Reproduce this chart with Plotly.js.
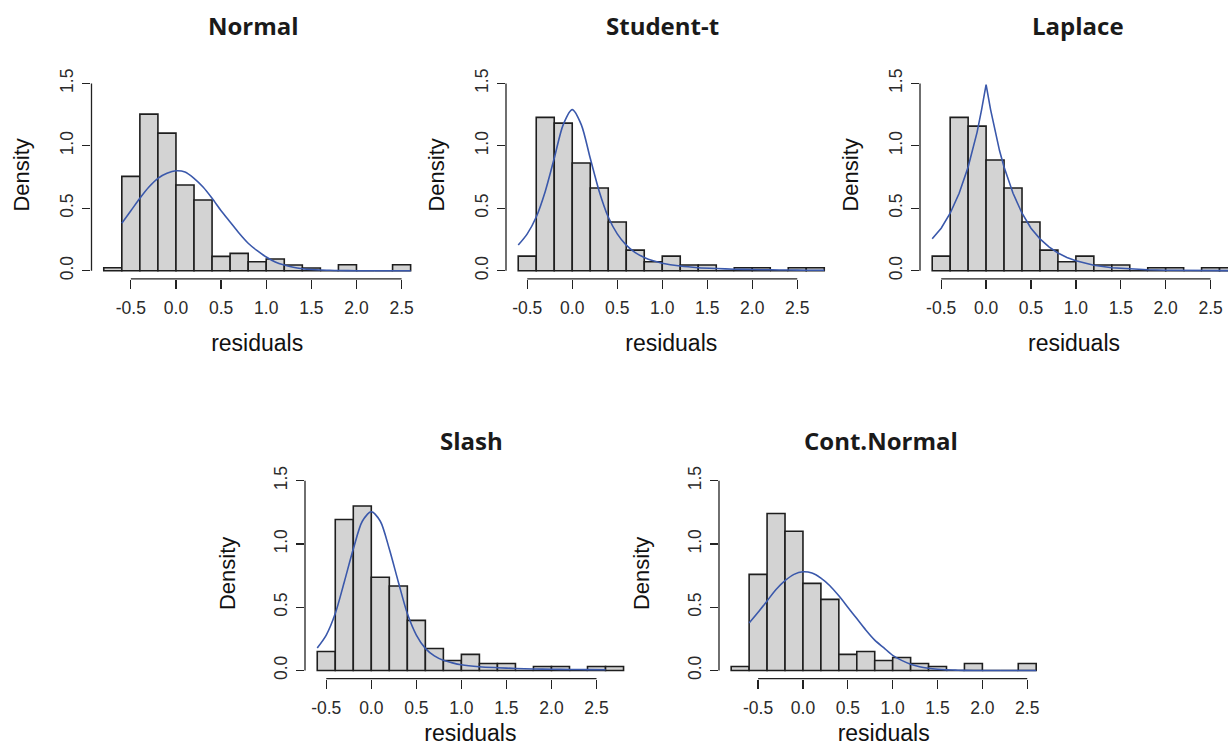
<!DOCTYPE html>
<html><head><meta charset="utf-8">
<script src="https://cdn.plot.ly/plotly-3.0.1.min.js"></script>
<style>html,body{margin:0;padding:0;background:#fff}#chart{width:1228px;height:746px}</style>
</head><body><div id="chart"></div>
<script>
// ---------------- data ----------------
const panelTitles = ['Normal', 'Student-t', 'Laplace', 'Slash', 'Cont.Normal'];
const xTickVals = [-0.5, 0, 0.5, 1, 1.5, 2, 2.5];
const xTickText = ['-0.5', '0.0', '0.5', '1.0', '1.5', '2.0', '2.5'];
const yTickVals = [0, 0.5, 1, 1.5];
const yTickText = ['0.0', '0.5', '1.0', '1.5'];
const binWidth = 0.2;

// left edges of histogram bins
const binsWide = [-0.8, -0.6, -0.4, -0.2, 0.0, 0.2, 0.4, 0.6, 0.8, 1.0, 1.2, 1.4, 1.6, 1.8, 2.0, 2.2, 2.4];
const binsShift = [-0.6, -0.4, -0.2, 0.0, 0.2, 0.4, 0.6, 0.8, 1.0, 1.2, 1.4, 1.6, 1.8, 2.0, 2.2, 2.4, 2.6];

// histogram densities
const normalDensity  = [0.024, 0.755, 1.254, 1.102, 0.686, 0.566, 0.115, 0.139, 0.072, 0.093, 0.045, 0.021, 0, 0.048, 0, 0, 0.048];
const studentDensity = [0.117, 1.228, 1.182, 0.862, 0.662, 0.390, 0.165, 0.072, 0.117, 0.045, 0.045, 0, 0.024, 0.024, 0, 0.024, 0.024];
const laplaceDensity = [0.117, 1.228, 1.158, 0.886, 0.662, 0.390, 0.165, 0.072, 0.117, 0.045, 0.045, 0, 0.024, 0.024, 0, 0.024, 0.024];
const slashDensity   = [0.150, 1.194, 1.300, 0.737, 0.668, 0.396, 0.174, 0.079, 0.127, 0.055, 0.055, 0, 0.032, 0.032, 0, 0.032, 0.032];
const contDensity    = [0.032, 0.760, 1.241, 1.101, 0.689, 0.562, 0.127, 0.150, 0.079, 0.103, 0.055, 0.032, 0, 0.055, 0, 0, 0.055];

// fitted density curves
const normalCurveX = [-0.6, -0.5, -0.4, -0.3, -0.2, -0.1, 0.0, 0.1, 0.2, 0.3, 0.4, 0.5, 0.6, 0.7, 0.8, 0.9, 1.0, 1.1, 1.2, 1.3, 1.4, 1.5, 1.6, 1.7, 1.8, 2.0, 2.2, 2.4, 2.6];
const normalCurveY = [0.38, 0.48, 0.58, 0.67, 0.74, 0.78, 0.80, 0.79, 0.74, 0.67, 0.58, 0.48, 0.39, 0.30, 0.22, 0.16, 0.11, 0.07, 0.045, 0.027, 0.016, 0.009, 0.005, 0.003, 0.001, 0, 0, 0, 0];

const studentCurveX = [-0.6, -0.5, -0.4, -0.3, -0.2, -0.1, 0.0, 0.1, 0.2, 0.3, 0.4, 0.5, 0.6, 0.7, 0.8, 0.9, 1.0, 1.2, 1.4, 1.6, 1.8, 2.0, 2.2, 2.4, 2.6, 2.8];
const studentCurveY = [0.205, 0.295, 0.43, 0.635, 0.90, 1.17, 1.29, 1.17, 0.90, 0.635, 0.43, 0.295, 0.205, 0.145, 0.106, 0.079, 0.060, 0.037, 0.024, 0.017, 0.012, 0.009, 0.007, 0.005, 0.004, 0.003];

const laplaceCurveX = [-0.6, -0.5, -0.4, -0.3, -0.2, -0.15, -0.1, -0.05, 0.0, 0.05, 0.1, 0.15, 0.2, 0.3, 0.4, 0.5, 0.6, 0.7, 0.8, 0.9, 1.0, 1.2, 1.4, 1.6, 1.8, 2.0, 2.2, 2.4, 2.6, 2.8];
const laplaceCurveY = [0.255, 0.34, 0.46, 0.62, 0.83, 0.96, 1.11, 1.29, 1.49, 1.29, 1.11, 0.96, 0.83, 0.62, 0.46, 0.34, 0.255, 0.19, 0.142, 0.106, 0.079, 0.044, 0.024, 0.013, 0.0075, 0.004, 0.002, 0.001, 0.0005, 0.0003];

const slashCurveX = [-0.6, -0.5, -0.4, -0.3, -0.2, -0.1, 0.0, 0.1, 0.2, 0.3, 0.4, 0.5, 0.6, 0.7, 0.8, 0.9, 1.0, 1.2, 1.4, 1.6, 1.8, 2.0, 2.2, 2.4, 2.6];
const slashCurveY = [0.178, 0.28, 0.45, 0.70, 0.96, 1.18, 1.255, 1.18, 0.96, 0.70, 0.45, 0.28, 0.175, 0.115, 0.08, 0.06, 0.045, 0.03, 0.022, 0.016, 0.012, 0.01, 0.008, 0.007, 0.006];

const contCurveX = [-0.6, -0.5, -0.4, -0.3, -0.2, -0.1, 0.0, 0.1, 0.2, 0.3, 0.4, 0.5, 0.6, 0.7, 0.8, 0.9, 1.0, 1.1, 1.2, 1.3, 1.4, 1.5, 1.6, 1.7, 1.8, 2.0, 2.2, 2.4, 2.6];
const contCurveY = [0.375, 0.46, 0.55, 0.64, 0.71, 0.76, 0.78, 0.77, 0.73, 0.67, 0.59, 0.50, 0.41, 0.32, 0.24, 0.18, 0.12, 0.08, 0.05, 0.03, 0.018, 0.01, 0.005, 0.003, 0.001, 0, 0, 0, 0];

// ---------------- layout / styling ----------------
const panels = [
  {bins: binsWide,  dens: normalDensity,  cx: normalCurveX,  cy: normalCurveY,  shape: 'spline', xdom: [0.07451, 0.34438], ydom: [0.62627, 0.90496], xr: [-0.936, 2.736], tdx: -4, tdy: 45, xso: 18, yso: 21},
  {bins: binsShift, dens: studentDensity, cx: studentCurveX, cy: studentCurveY, shape: 'spline', xdom: [0.41205, 0.68119], ydom: [0.62627, 0.90496], xr: [-0.736, 2.936], tdx: -9, tdy: 45, xso: 18, yso: 21},
  {bins: binsShift, dens: laplaceDensity, cx: laplaceCurveX, cy: laplaceCurveY, shape: 'linear', xdom: [0.74919, 1.0],     ydom: [0.62627, 0.90496], xr: [-0.736, 2.694], tdx: 4,  tdy: 45, xso: 18, yso: 21},
  {bins: binsShift, dens: slashDensity,   cx: slashCurveX,   cy: slashCurveY,   shape: 'spline', xdom: [0.24837, 0.51775], ydom: [0.09021, 0.37252], xr: [-0.736, 2.936], tdx: 1,  tdy: 28, xso: 20, yso: 29},
  {bins: binsWide,  dens: contDensity,    cx: contCurveX,    cy: contCurveY,    shape: 'spline', xdom: [0.58550, 0.85375], ydom: [0.09021, 0.37252], xr: [-0.936, 2.736], tdx: -3, tdy: 28, xso: 20, yso: 29}
];

const axisColor = '#222';
const tickFont = {family: 'Liberation Sans, Arial, sans-serif', size: 17.5, color: '#2a2a2a'};
const labelFont = {family: 'Liberation Sans, Arial, sans-serif', color: '#111'};

const traces = [];
const layout = {
  width: 1228, height: 746,
  margin: {l: 0, r: 0, t: 0, b: 0},
  paper_bgcolor: '#fff', plot_bgcolor: 'rgba(0,0,0,0)',
  showlegend: false,
  bargap: 0,
  shapes: [], annotations: []
};

panels.forEach((p, i) => {
  const n = i === 0 ? '' : String(i + 1);
  const xa = 'x' + n, ya = 'y' + n;
  traces.push({
    type: 'bar', x: p.bins, y: p.dens, width: binWidth, offset: 0,
    xaxis: xa, yaxis: ya,
    marker: {color: '#d3d3d3', line: {color: '#1e1e1e', width: 1.6}},
    hoverinfo: 'x+y'
  });
  traces.push({
    type: 'scatter', mode: 'lines', x: p.cx, y: p.cy,
    xaxis: xa, yaxis: ya,
    line: {color: '#3a58ab', width: 1.6, shape: p.shape, smoothing: 0.8}
  });
  layout['xaxis' + n] = {
    domain: p.xdom, anchor: ya, range: p.xr, fixedrange: true,
    showgrid: false, zeroline: false, showline: false,
    ticks: 'outside', ticklen: 9, tickwidth: 1.3, tickcolor: axisColor,
    tickmode: 'array', tickvals: xTickVals, ticktext: xTickText,
    tickfont: tickFont, ticklabelstandoff: 4,
    title: {text: 'residuals', font: Object.assign({size: 23}, labelFont), standoff: p.xso}
  };
  layout['yaxis' + n] = {
    domain: p.ydom, anchor: xa, range: [-0.065, 1.6], fixedrange: true,
    showgrid: false, zeroline: false, showline: false,
    ticks: 'outside', ticklen: 8, tickwidth: 1.3, tickcolor: axisColor,
    tickmode: 'array', tickvals: yTickVals, ticktext: yTickText,
    tickangle: -90, tickfont: tickFont, ticklabelstandoff: 2,
    title: {text: 'Density', font: Object.assign({size: 22}, labelFont), standoff: p.yso}
  };
  // R-style axis lines spanning first to last tick
  layout.shapes.push({type: 'line', xref: xa, yref: ya + ' domain',
    x0: xTickVals[0], x1: xTickVals[xTickVals.length - 1], y0: 0, y1: 0,
    line: {color: axisColor, width: 1.3}});
  layout.shapes.push({type: 'line', xref: xa + ' domain', yref: ya,
    x0: 0, x1: 0, y0: yTickVals[0], y1: yTickVals[yTickVals.length - 1],
    line: {color: axisColor, width: 1.3}});
  layout.annotations.push({
    text: '<b>' + panelTitles[i] + '</b>', showarrow: false,
    xref: xa + ' domain', yref: ya + ' domain', x: 0.5, y: 1,
    xanchor: 'center', yanchor: 'middle', xshift: p.tdx, yshift: p.tdy,
    font: {family: 'Open Sans, Noto Sans, sans-serif', size: 24, color: '#1a1a1a'}
  });
});

Plotly.newPlot('chart', traces, layout, {displayModeBar: false, staticPlot: true});
</script></body></html>
